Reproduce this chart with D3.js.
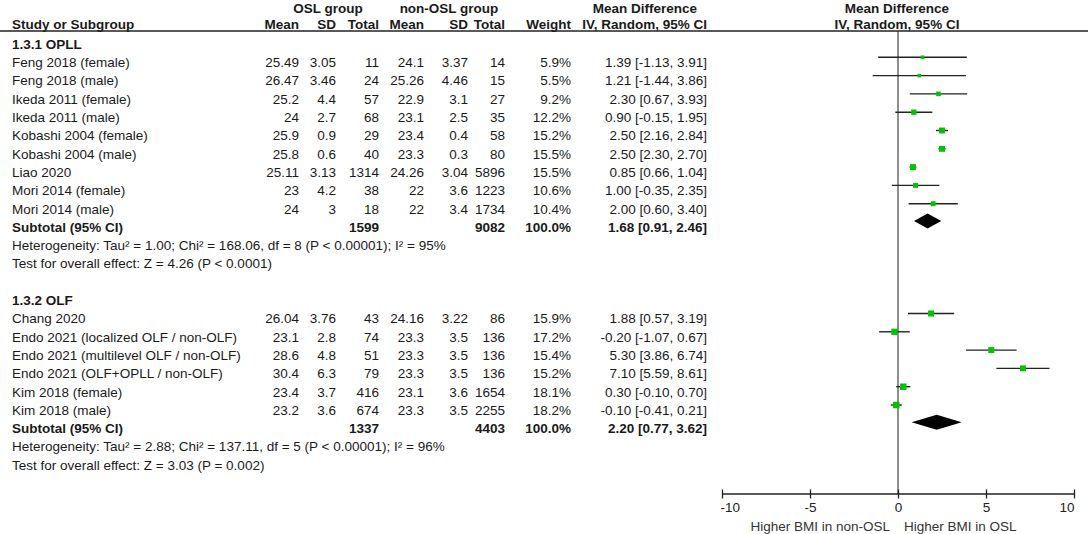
<!DOCTYPE html>
<html>
<head>
<meta charset="utf-8">
<script src="https://cdn.jsdelivr.net/npm/d3@7"></script>
<style>
  body { margin: 0; background: #fff; }
  text { fill: #1a1a1a; font-family: "Liberation Sans", Arial, sans-serif; font-size: 13.5px; }
  .bold { font-weight: bold; }
  .axis text { fill: #222; }
</style>
</head>
<body>
<svg id="forest" width="1088" height="534"></svg>
<script>
// studies (both subgroups, in order)
const studies = [
  "Feng 2018 (female)", "Feng 2018 (male)", "Ikeda 2011 (female)", "Ikeda 2011 (male)",
  "Kobashi 2004 (female)", "Kobashi 2004 (male)", "Liao 2020", "Mori 2014 (female)", "Mori 2014 (male)",
  "Chang 2020", "Endo 2021 (localized OLF / non-OLF)", "Endo 2021 (multilevel OLF / non-OLF)",
  "Endo 2021 (OLF+OPLL / non-OLF)", "Kim 2018 (female)", "Kim 2018 (male)"
];
const studyGroup = [0, 0, 0, 0, 0, 0, 0, 0, 0, 1, 1, 1, 1, 1, 1];
const oslMean = [25.49, 26.47, 25.2, 24, 25.9, 25.8, 25.11, 23, 24, 26.04, 23.1, 28.6, 30.4, 23.4, 23.2];
const oslSd = [3.05, 3.46, 4.4, 2.7, 0.9, 0.6, 3.13, 4.2, 3, 3.76, 2.8, 4.8, 6.3, 3.7, 3.6];
const oslTotal = [11, 24, 57, 68, 29, 40, 1314, 38, 18, 43, 74, 51, 79, 416, 674];
const nonMean = [24.1, 25.26, 22.9, 23.1, 23.4, 23.3, 24.26, 22, 22, 24.16, 23.3, 23.3, 23.3, 23.1, 23.3];
const nonSd = [3.37, 4.46, 3.1, 2.5, 0.4, 0.3, 3.04, 3.6, 3.4, 3.22, 3.5, 3.5, 3.5, 3.6, 3.5];
const nonTotal = [14, 15, 27, 35, 58, 80, 5896, 1223, 1734, 86, 136, 136, 136, 1654, 2255];
const weight = [5.9, 5.5, 9.2, 12.2, 15.2, 15.5, 15.5, 10.6, 10.4, 15.9, 17.2, 15.4, 15.2, 18.1, 18.2];
const md = [1.39, 1.21, 2.30, 0.90, 2.50, 2.50, 0.85, 1.00, 2.00, 1.88, -0.20, 5.30, 7.10, 0.30, -0.10];
const ciLow = [-1.13, -1.44, 0.67, -0.15, 2.16, 2.30, 0.66, -0.35, 0.60, 0.57, -1.07, 3.86, 5.59, -0.10, -0.41];
const ciHigh = [3.91, 3.86, 3.93, 1.95, 2.84, 2.70, 1.04, 2.35, 3.40, 3.19, 0.67, 6.74, 8.61, 0.70, 0.21];

// subgroups
const groupNames = ["1.3.1 OPLL", "1.3.2 OLF"];
const groupOslTotal = [1599, 1337];
const groupNonTotal = [9082, 4403];
const groupMd = [1.68, 2.20];
const groupLow = [0.91, 0.77];
const groupHigh = [2.46, 3.62];
const groupHetero = [
  "Heterogeneity: Tau\u00b2 = 1.00; Chi\u00b2 = 168.06, df = 8 (P < 0.00001); I\u00b2 = 95%",
  "Heterogeneity: Tau\u00b2 = 2.88; Chi\u00b2 = 137.11, df = 5 (P < 0.00001); I\u00b2 = 96%"
];
const groupEffect = [
  "Test for overall effect: Z = 4.26 (P < 0.0001)",
  "Test for overall effect: Z = 3.03 (P = 0.002)"
];

const axisTicks = [-10, -5, 0, 5, 10];
const favoursLeft = "Higher BMI in non-OSL";
const favoursRight = "Higher BMI in OSL";

const svg = d3.select("#forest");

// row index -> y of text centre
const y = d3.scaleLinear().domain([0, 1]).range([44, 62.3]);
const x = d3.scaleLinear().domain([-10, 10]).range([722, 1074]);
const boxSize = d3.scaleSqrt().domain([0, 20]).range([0, 6.8]);
const axisY = 494;
const markOffset = -5;

// build rows
const rows = [];
let r = 0;
groupNames.forEach((g, gi) => {
  rows.push({ type: "group", row: r++, label: g });
  studies.forEach((s, i) => {
    if (studyGroup[i] === gi) rows.push({ type: "study", row: r++, i });
  });
  rows.push({ type: "subtotal", row: r++, gi });
  rows.push({ type: "note", row: r++, label: groupHetero[gi] });
  rows.push({ type: "note", row: r++, label: groupEffect[gi] });
  r++; // blank row
});

// right edges of the number columns
const cols = { m1: 299, s1: 336, t1: 379, m2: 424, s2: 468, t2: 505, w: 571, ci: 707 };
const fmt2 = d3.format(".2f");
const ciText = (m, l, h) => `${fmt2(m)} [${fmt2(l)}, ${fmt2(h)}]`.replace(/\u2212/g, "-");

const txt = (xp, yp, s, anchor, bold) =>
  svg.append("text").attr("class", bold ? "bold" : null)
    .attr("x", xp).attr("y", yp).attr("dy", "0.36em")
    .attr("text-anchor", anchor || "start").text(s);

// header
const h1 = 8, h2 = 24;
txt(328, h1, "OSL group", "middle", true);
txt(449, h1, "non-OSL group", "middle", true);
txt(645, h1, "Mean Difference", "middle", true);
txt(897, h1, "Mean Difference", "middle", true);
txt(12, h2, "Study or Subgroup", "start", true);
txt(cols.m1, h2, "Mean", "end", true);
txt(cols.s1, h2, "SD", "end", true);
txt(cols.t1, h2, "Total", "end", true);
txt(cols.m2, h2, "Mean", "end", true);
txt(cols.s2, h2, "SD", "end", true);
txt(cols.t2, h2, "Total", "end", true);
txt(cols.w, h2, "Weight", "end", true);
txt(cols.ci, h2, "IV, Random, 95% CI", "end", true);
txt(897, h2, "IV, Random, 95% CI", "middle", true);

svg.append("line").attr("x1", 0).attr("x2", 1088).attr("y1", 31).attr("y2", 31)
  .attr("stroke", "#222").attr("stroke-width", 1.3);

// zero line
svg.append("line").attr("x1", x(0)).attr("x2", x(0)).attr("y1", 31).attr("y2", axisY)
  .attr("stroke", "#444").attr("stroke-width", 1.2);

rows.forEach(d => {
  const yc = y(d.row);
  if (d.type === "group") {
    txt(12, yc, d.label, "start", true);
  } else if (d.type === "note") {
    txt(12, yc, d.label, "start", false);
  } else if (d.type === "study") {
    const i = d.i;
    txt(12, yc, studies[i]);
    txt(cols.m1, yc, oslMean[i], "end");
    txt(cols.s1, yc, oslSd[i], "end");
    txt(cols.t1, yc, oslTotal[i], "end");
    txt(cols.m2, yc, nonMean[i], "end");
    txt(cols.s2, yc, nonSd[i], "end");
    txt(cols.t2, yc, nonTotal[i], "end");
    txt(cols.w, yc, weight[i].toFixed(1) + "%", "end");
    txt(cols.ci, yc, ciText(md[i], ciLow[i], ciHigh[i]), "end");
    const ym = yc + markOffset;
    svg.append("line").attr("x1", x(ciLow[i])).attr("x2", x(ciHigh[i]))
      .attr("y1", ym).attr("y2", ym).attr("stroke", "#222").attr("stroke-width", 1.4);
    const b = boxSize(weight[i]);
    svg.append("rect").attr("x", x(md[i]) - b / 2).attr("y", ym - b / 2)
      .attr("width", b).attr("height", b).attr("fill", "#00c400");
  } else if (d.type === "subtotal") {
    const g = d.gi;
    txt(12, yc, "Subtotal (95% CI)", "start", true);
    txt(cols.t1, yc, groupOslTotal[g], "end", true);
    txt(cols.t2, yc, groupNonTotal[g], "end", true);
    txt(cols.w, yc, "100.0%", "end", true);
    txt(cols.ci, yc, ciText(groupMd[g], groupLow[g], groupHigh[g]), "end", true);
    const ym = yc - 6;
    const pts = [[x(groupLow[g]), ym], [x(groupMd[g]), ym - 7.5], [x(groupHigh[g]), ym], [x(groupMd[g]), ym + 7.5]];
    svg.append("path").attr("d", d3.line()(pts) + "Z").attr("fill", "#000");
  }
});

// axis
const axis = svg.append("g").attr("class", "axis")
  .attr("transform", `translate(0,${axisY - 4.5})`)
  .call(d3.axisBottom(x).tickValues(axisTicks).tickSize(9).tickSizeOuter(0).tickPadding(4)
    .tickFormat(d => String(d)));
axis.select(".domain").remove();
axis.selectAll(".tick line").attr("stroke", "#222").attr("stroke-width", 1.3);
axis.selectAll(".tick text")
  .style("font-size", "13.5px").style("font-family", "Liberation Sans, Arial, sans-serif")
  .attr("text-anchor", (d, i) => i === 0 ? "start" : i === axisTicks.length - 1 ? "end" : "middle")
  .attr("dx", (d, i) => i === 0 ? -2 : 0);
svg.append("line").attr("x1", x(-10)).attr("x2", x(10)).attr("y1", axisY).attr("y2", axisY)
  .attr("stroke", "#222").attr("stroke-width", 1.3);

txt(x(0) - 8, 526, favoursLeft, "end").style("fill", "#333");
txt(x(0) + 6, 526, favoursRight, "start").style("fill", "#333");
</script>
</body>
</html>
